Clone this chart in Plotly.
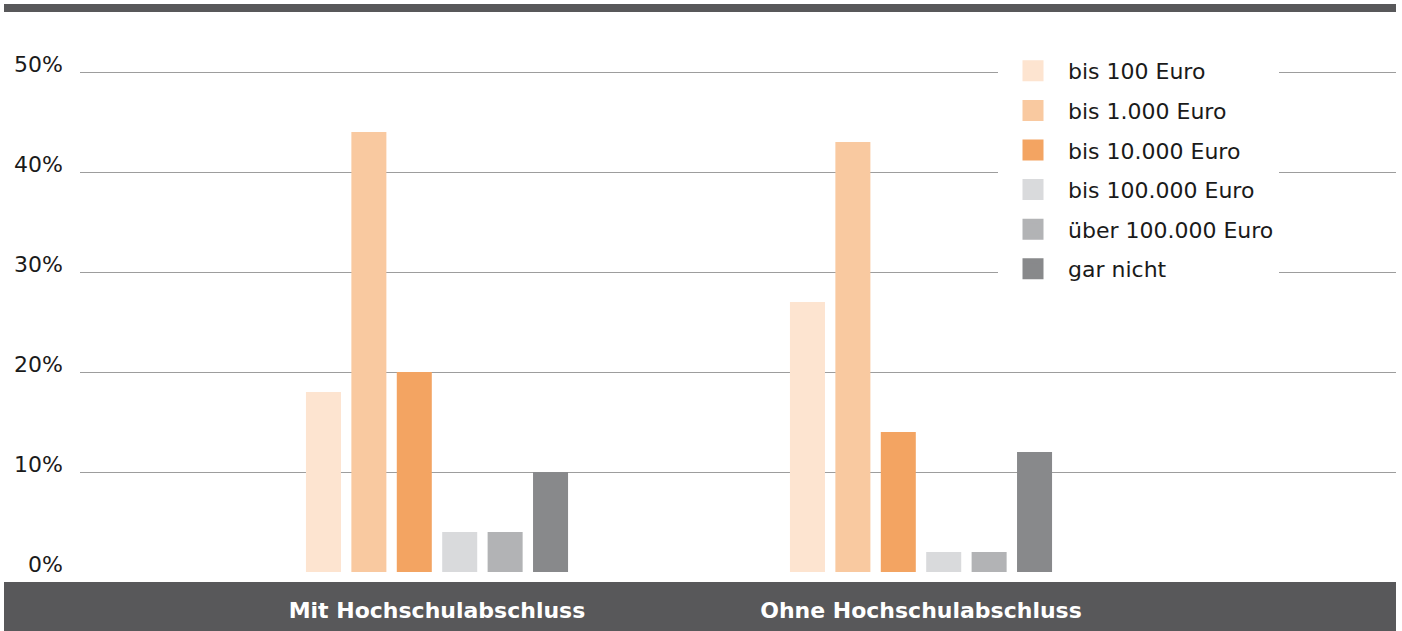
import plotly.graph_objects as go

categories = ["Mit Hochschulabschluss", "Ohne Hochschulabschluss"]
series_names = ["bis 100 Euro", "bis 1.000 Euro", "bis 10.000 Euro",
                "bis 100.000 Euro", "über 100.000 Euro", "gar nicht"]
bis_100 = [18, 27]
bis_1000 = [44, 43]
bis_10000 = [20, 14]
bis_100000 = [4, 2]
ueber_100000 = [4, 2]
gar_nicht = [10, 12]
colors = ["#fde4d0", "#f9c9a0", "#f3a462", "#d9dadc", "#b2b3b5", "#88898b"]
y_ticks = [0, 10, 20, 30, 40, 50]
y_tick_labels = ["0%", "10%", "20%", "30%", "40%", "50%"]

series_values = [bis_100, bis_1000, bis_10000, bis_100000, ueber_100000, gar_nicht]

FONT = "DejaVu Sans"
W, H = 1402, 631
ML, MR, MT, MB = 80, 6, 52, 59
PW, PH = W - ML - MR, H - MT - MB

fig = go.Figure()
for name, vals, col in zip(series_names, series_values, colors):
    fig.add_trace(go.Bar(x=categories, y=vals, name=name, marker_color=col,
                         marker_line_width=0, showlegend=False))
for i, (name, col) in enumerate(zip(series_names, colors)):
    fig.add_trace(go.Scatter(x=[None], y=[None], mode="markers", name=name,
                             legendgroup=f"g{i}",
                             marker=dict(symbol="square", size=16, color=col,
                                         line=dict(color=col, width=5))))

def px_x(px):
    return (px - ML) / PW

def px_y(py):
    return (H - MB - py) / PH

shapes = [
    dict(type="rect", xref="paper", yref="paper", x0=px_x(4), x1=px_x(1396),
         y0=px_y(12), y1=px_y(4), fillcolor="#58585a", line_width=0, layer="below"),
    dict(type="rect", xref="paper", yref="paper", x0=px_x(4), x1=px_x(1396),
         y0=px_y(631), y1=px_y(582), fillcolor="#58585a", line_width=0, layer="below"),
]

fig.update_layout(
    width=W, height=H,
    margin=dict(l=ML, r=MR, t=MT, b=MB, pad=0),
    paper_bgcolor="white", plot_bgcolor="rgba(0,0,0,0)",
    barmode="group", bargap=0.437, bargroupgap=0.229,
    font=dict(family=FONT, size=22, color="#1a1a1a"),
    shapes=shapes,
    showlegend=True,
    legend=dict(x=px_x(998), xanchor="left", y=px_y(50), yanchor="top",
                bgcolor="white", borderwidth=0, itemwidth=60,
                tracegroupgap=8, traceorder="grouped",
                font=dict(family=FONT, size=22, color="#1a1a1a")),
    xaxis=dict(range=[-0.7376, 1.9814], showgrid=False, zeroline=False,
               showline=False, ticks="",
               tickfont=dict(family=FONT, size=22, color="white", weight="bold"),
               ticklabelstandoff=23),
    yaxis=dict(range=[0, 52], tickmode="array", tickvals=y_ticks, ticktext=y_tick_labels,
               showgrid=True, gridcolor="#9d9d9d", gridwidth=1,
               zeroline=True, zerolinecolor="white", zerolinewidth=1,
               showline=False, ticks="",
               tickfont=dict(family=FONT, size=22, color="#1a1a1a"),
               ticklabelstandoff=16, ticklabelshift=-8),
)

fig.write_html("out.html", config={"displayModeBar": False},
               post_script="document.body.style.margin='0';")
